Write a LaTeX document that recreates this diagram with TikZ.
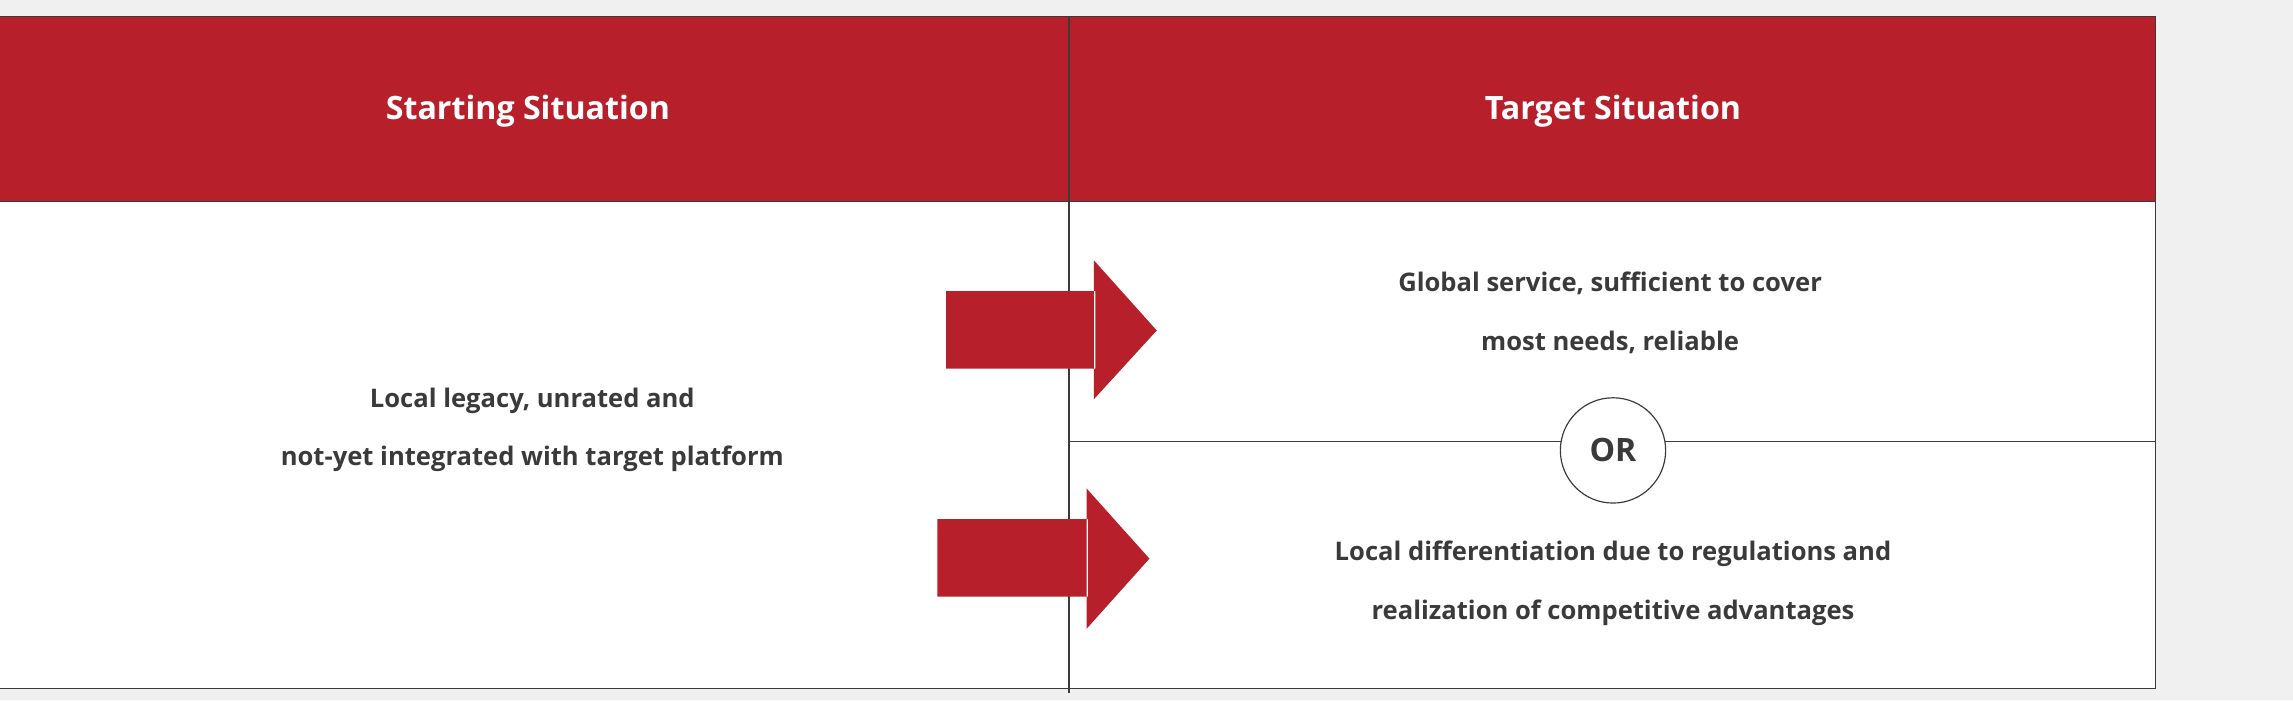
\documentclass[tikz,border=0pt]{standalone}
\usepackage{fontspec}
\setmainfont{Open Sans}
\definecolor{hred}{HTML}{B71F2A}
\definecolor{bg}{HTML}{F0F0F1}
\definecolor{txt}{HTML}{3A3A3A}
\begin{document}
\begin{tikzpicture}[x=1pt,y=-1pt,
  head/.style={text=white,font=\bfseries\fontsize{22}{26}\selectfont},
  body/.style={text=txt,font=\bfseries\fontsize{17.5}{40}\selectfont,align=center},
  ln/.style={draw=txt,line width=0.8pt}]
\fill[bg] (0,0) rectangle (1568,479);
\useasboundingbox (0,0) rectangle (1568,479);
\fill[white] (0,138) rectangle (1474,471);
\fill[hred] (0,11) rectangle (1474,138);
\draw[ln] (0,11) -- (1474,11) -- (1474,471) -- (0,471);
\draw[ln] (0,138) -- (1474,138);
\draw[ln] (731,11) -- (731,474);
\draw[ln] (731,302) -- (1474,302);
\node[head] (h1) at (361,76) {Starting Situation};
\node[head] (h2) at (1103,76) {Target Situation};
\node[body] (l) at (364,294) {Local legacy, unrated and\\not-yet integrated with target platform};
\node[body] (t1) at (1101,214) {Global service, sufficient to cover\\most needs, reliable};
\node[body] (t2) at (1103,399) {Local differentiation due to regulations and\\realization of competitive advantages};
\node[circle,draw=txt,line width=0.8pt,fill=white,minimum size=72pt,inner sep=0,text=txt,font=\bfseries\fontsize{22}{26}\selectfont] (or) at (1103,308) {OR};
\fill[hred] (647,199) rectangle (749,252) (748,178) -- (791,226) -- (748,273) -- cycle;
\fill[hred] (641,355) rectangle (744,408) (743,334) -- (786,382) -- (743,430) -- cycle;
\end{tikzpicture}
\end{document}
